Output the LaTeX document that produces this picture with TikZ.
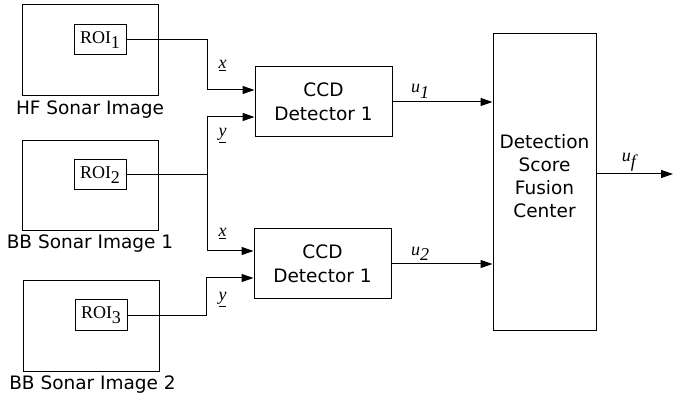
\documentclass[tikz,border=0pt]{standalone}
\usepackage{fontspec}
\setmainfont{DejaVu Sans}
\newfontfamily\serif{Liberation Serif}
\usetikzlibrary{arrows.meta}
\begin{document}
\begin{tikzpicture}[x=1pt,y=-1pt,line width=1pt,
  box/.style={draw,line width=1pt,inner sep=0pt},
  imgbox/.style={box,minimum width=136pt,minimum height=90pt},
  roibox/.style={box,minimum width=52pt,minimum height=30pt,font=\serif\fontsize{18}{20}\selectfont},
  ccdbox/.style={box,minimum width=137pt,minimum height=70pt,align=center,font=\fontsize{18.5}{23.5}\selectfont},
  sans/.style={inner sep=0pt,font=\fontsize{18.5}{23}\selectfont},
  var/.style={inner sep=0pt,anchor=base,font=\serif\fontsize{18}{20}\selectfont},
  arr/.style={-{Triangle[length=12pt,width=8pt]}}]
\useasboundingbox (0,0) rectangle (673,401);
\newcommand{\sub}[1]{\raisebox{-5.5pt}{#1}}
% sonar images
\node[imgbox,minimum height=91pt] (img1) at (90,50.5) {};
\node[imgbox] (img2) at (90,186) {};
\node[imgbox] (img3) at (91,326) {};
\node[sans,anchor=base] (lab1) at (90,115) {HF Sonar Image};
\node[sans,anchor=base] (lab2) at (90,249) {BB Sonar Image 1};
\node[sans,anchor=base] (lab3) at (92.5,389) {BB Sonar Image 2};
% ROIs
\node[roibox] (roi1) at (100,40) {ROI\sub{1}};
\node[roibox] (roi2) at (100,175) {ROI\sub{2}};
\node[roibox] (roi3) at (101,315) {ROI\sub{3}};
% detectors
\node[ccdbox] (ccd1) at (323.5,102) {CCD\\Detector 1};
\node[ccdbox] (ccd2) at (322.5,264) {CCD\\Detector 1};
% fusion
\node[box,minimum width=103pt,minimum height=296pt] (fus) at (544.5,182) {};
\node[sans,align=center] (fustext) at (544.5,176) {Detection\\Score\\Fusion\\Center};
% connectors
\draw[arr] (roi1.east) -| (207,90) -- (ccd1.west |- 0,90);
\draw[arr] (roi2.east) -| (207,117) -- (ccd1.west |- 0,117);
\draw[arr] (roi2.east) -| (207,251) -- (ccd2.west |- 0,251);
\draw[arr] (roi3.east) -| (206,278) -- (ccd2.west |- 0,278);
\draw[arr] (ccd1.east) -- (fus.west |- ccd1.east);
\draw[arr] (ccd2.east) -- (fus.west |- ccd2.east);
\coordinate (ufend) at (673,174);
\draw[arr] (fus.east |- ufend) -- (ufend);
% labels
\node[var] (lx1) at (222.5,69) {\underline{\textit{x}}};
\node[var] (ly1) at (222.5,136.5) {\underline{\textit{y}}};
\node[var] (lx2) at (222.5,237) {\underline{\textit{x}}};
\node[var] (ly2) at (222.5,300.5) {\underline{\textit{y}}};
\node[var] (lu1) at (420,93) {\textit{u}\sub{\textit{1}}};
\node[var] (lu2) at (420,255) {\textit{u}\sub{\textit{2}}};
\node[var] (luf) at (630,162) {\textit{u}\sub{\textit{f}}};
\end{tikzpicture}
\end{document}
